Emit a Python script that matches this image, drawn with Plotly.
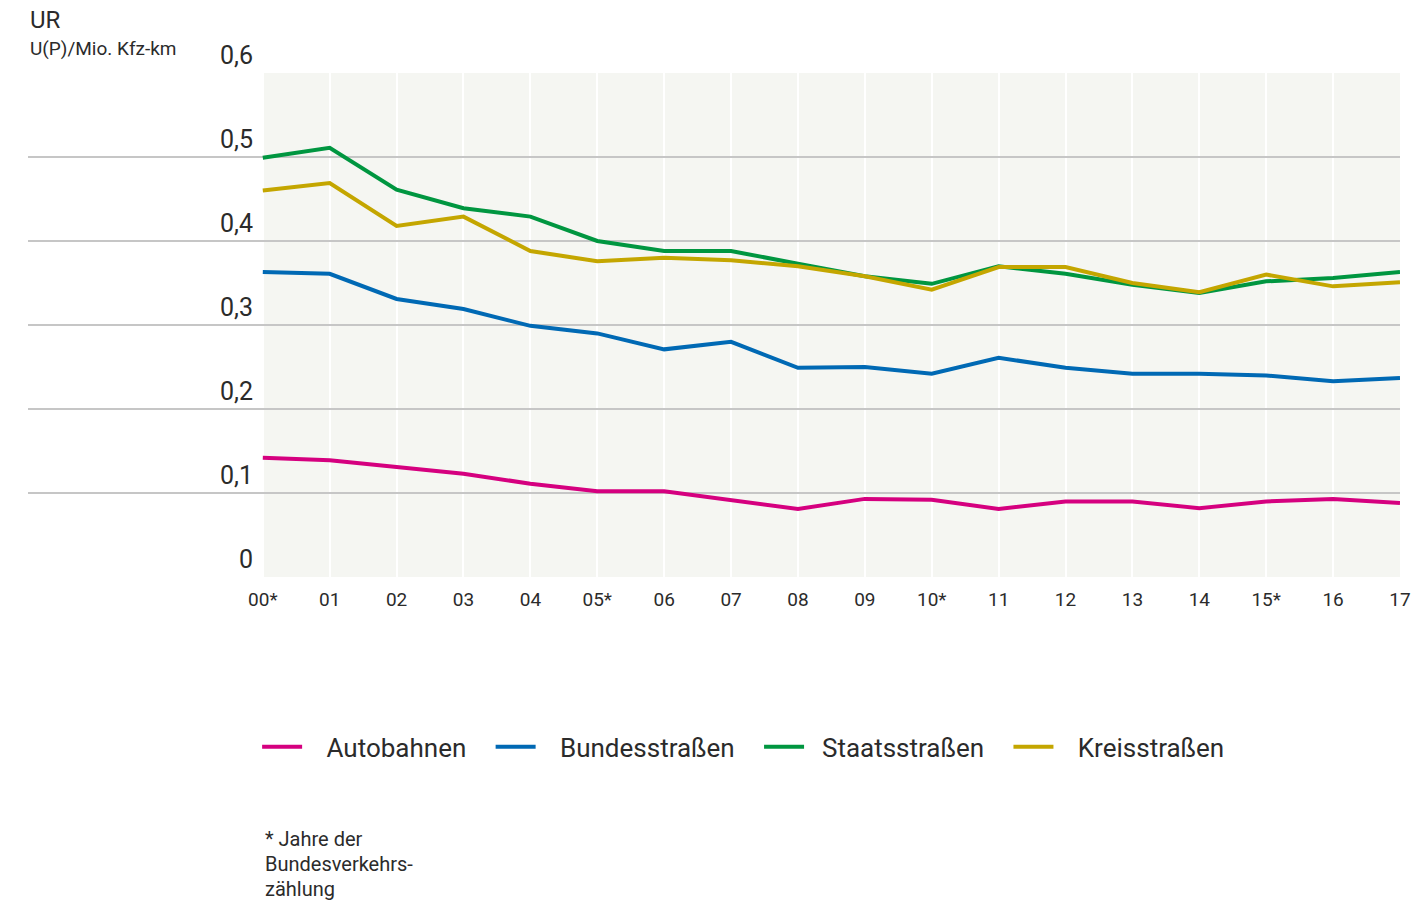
import plotly.graph_objects as go

years = list(range(18))
year_labels = ["00*", "01", "02", "03", "04", "05*", "06", "07", "08", "09",
               "10*", "11", "12", "13", "14", "15*", "16", "17"]

autobahnen = [0.142, 0.139, 0.131, 0.123, 0.111, 0.102, 0.102, 0.092, 0.081, 0.093,
              0.092, 0.081, 0.090, 0.090, 0.082, 0.090, 0.093, 0.088]
bundesstrassen = [0.363, 0.361, 0.331, 0.319, 0.299, 0.290, 0.271, 0.280, 0.249, 0.250,
                  0.242, 0.261, 0.249, 0.242, 0.242, 0.240, 0.233, 0.237]
staatsstrassen = [0.499, 0.511, 0.461, 0.439, 0.429, 0.400, 0.388, 0.388, 0.373, 0.358,
                  0.349, 0.370, 0.361, 0.348, 0.338, 0.352, 0.356, 0.363]
kreisstrassen = [0.460, 0.469, 0.418, 0.429, 0.388, 0.376, 0.380, 0.377, 0.370, 0.358,
                 0.342, 0.369, 0.369, 0.350, 0.339, 0.360, 0.346, 0.351]

y_ticks = [0, 0.1, 0.2, 0.3, 0.4, 0.5, 0.6]
y_labels = ["0", "0,1", "0,2", "0,3", "0,4", "0,5", "0,6"]

series = [
    ("Autobahnen", autobahnen, "#d5007f"),
    ("Bundesstraßen", bundesstrassen, "#0069b4"),
    ("Staatsstraßen", staatsstrassen, "#009640"),
    ("Kreisstraßen", kreisstrassen, "#c4a600"),
]

FONT = "Roboto"
TEXT = "#2b2b2b"
NB = "\u00a0"

fig = go.Figure()
for name, vals, color in series:
    lead = 2 if name == "Staatsstraßen" else 3  # legend gap after the line sample
    fig.add_trace(go.Scatter(x=years, y=vals, mode="lines", name=NB * lead + name + NB * 3,
                             line=dict(color=color, width=4)))

# grey panel behind the data range
fig.add_shape(type="rect", x0=years[0], x1=years[-1], y0=0, y1=0.6,
              xref="x", yref="y", fillcolor="#f5f6f2", line_width=0, layer="below")

for v, lab in zip(y_ticks, y_labels):
    fig.add_annotation(x=-0.12, y=v, xref="x", yref="y", text=lab, showarrow=False,
                       xanchor="right", yanchor="bottom", yshift=1,
                       font=dict(family=FONT, size=25, color=TEXT))

fig.add_annotation(x=0, y=1, xref="paper", yref="paper", text="UR", showarrow=False,
                   xanchor="left", yanchor="middle", yshift=53,
                   font=dict(family=FONT, size=24, color=TEXT))
fig.add_annotation(x=0, y=1, xref="paper", yref="paper", text="U(P)/Mio. Kfz-km",
                   showarrow=False, xanchor="left", yanchor="middle", yshift=25,
                   font=dict(family=FONT, size=19, color=TEXT))

foot = ["* Jahre der", "Bundesverkehrs-", "zählung"]
for i, line in enumerate(foot):
    fig.add_annotation(x=years[0], y=0, xref="x", yref="paper", text=line,
                       showarrow=False, xanchor="left", yanchor="middle",
                       yshift=-262 - 25 * i,
                       font=dict(family=FONT, size=20, color=TEXT))

fig.update_layout(
    width=1421, height=901,
    margin=dict(l=28, r=21, t=73, b=324),
    plot_bgcolor="white", paper_bgcolor="white",
    font=dict(family=FONT, color=TEXT),
    showlegend=True,
    legend=dict(orientation="h", x=0.167, y=-0.337, xanchor="left", yanchor="middle",
                font=dict(family=FONT, size=26, color=TEXT), itemwidth=40,
                tracegroupgap=0),
    xaxis=dict(range=[-3.51, 17], tickvals=years, ticktext=year_labels,
               showgrid=True, gridcolor="white", gridwidth=2, zeroline=False,
               showline=False, ticks="", ticklabelstandoff=9, automargin=False,
               tickfont=dict(family=FONT, size=19, color=TEXT)),
    yaxis=dict(range=[0, 0.6], tickvals=y_ticks, showticklabels=False,
               showgrid=True, gridcolor="#c6c6c6", gridwidth=1.5, zeroline=False,
               showline=False, ticks="", automargin=False),
)

# drop the default 8px body margin so the figure fills the window exactly
fig.write_html("out.html", config={"displayModeBar": False},
               post_script="document.body.style.margin='0';")
